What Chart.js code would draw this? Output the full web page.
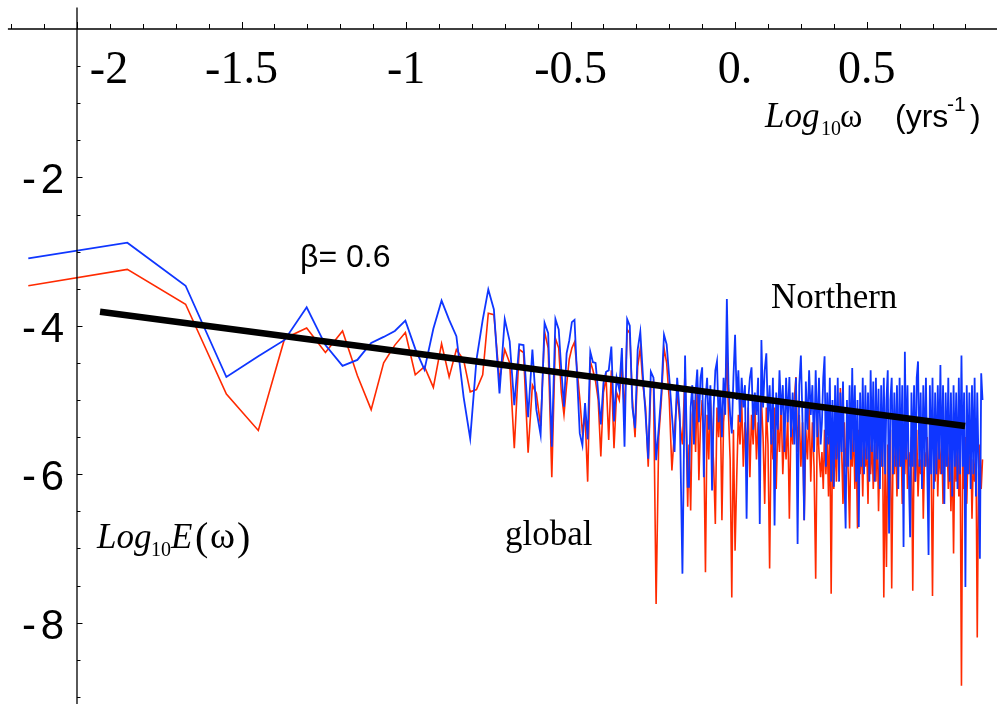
<!DOCTYPE html>
<html>
<head>
<meta charset="utf-8">
<script src="https://cdn.jsdelivr.net/npm/chart.js@4.4.1/dist/chart.umd.min.js"></script>
<style>
  html, body { margin:0; padding:0; background:#fff; }
  canvas { display:block; }
</style>
</head>
<body>
<canvas id="spectrumChart" width="997" height="704"></canvas>
<script>
/* ── Power spectrum, Log10 E(ω) vs Log10 ω ── */

// log10 of frequency (yrs^-1): first 40 harmonics, then the dense high-frequency tail
const logOmega = [
  -2.148,-1.847,-1.670,-1.546,-1.449,-1.369,-1.302,-1.245,-1.193,-1.148,
  -1.106,-1.068,-1.034,-1.002,-0.972,-0.944,-0.917,-0.892,-0.869,-0.847,
  -0.825,-0.805,-0.786,-0.767,-0.750,-0.733,-0.716,-0.700,-0.685,-0.671,
  -0.656,-0.643,-0.629,-0.616,-0.604,-0.591,-0.579,-0.568,-0.557,-0.546,
  -0.536,-0.528,-0.520,-0.512,-0.504,-0.496,-0.488,-0.480,-0.472,-0.464,
  -0.456,-0.448,-0.440,-0.432,-0.424,-0.416,-0.408,-0.400,-0.392,-0.384,
  -0.376,-0.368,-0.360,-0.352,-0.344,-0.336,-0.328,-0.320,-0.312,-0.304,
  -0.296,-0.288,-0.280,-0.272,-0.264,-0.256,-0.248,-0.240,-0.232,-0.224,
  -0.216,-0.208,-0.200,-0.192,-0.184,-0.176,-0.168,-0.160,-0.152,-0.144,
  -0.140,-0.135,-0.130,-0.125,-0.120,-0.115,-0.110,-0.105,-0.100,-0.095,
  -0.090,-0.085,-0.080,-0.075,-0.070,-0.065,-0.060,-0.055,-0.050,-0.045,
  -0.040,-0.035,-0.030,-0.025,-0.020,-0.015,-0.010,-0.005,0.000,0.005,
  0.010,0.015,0.020,0.025,0.030,0.035,0.040,0.045,0.050,0.055,
  0.060,0.065,0.070,0.075,0.080,0.085,0.090,0.095,0.100,0.105,
  0.110,0.115,0.120,0.125,0.130,0.135,0.140,0.145,0.150,0.155,
  0.160,0.165,0.170,0.175,0.180,0.185,0.190,0.195,0.200,0.205,
  0.210,0.215,0.220,0.225,0.230,0.235,0.240,0.245,0.250,0.255,
  0.260,
  0.264,0.268,0.272,0.276,0.280,0.284,0.288,0.292,0.296,0.300,
  0.304,0.308,0.312,0.316,0.320,0.324,0.328,0.332,0.336,0.340,
  0.344,0.348,0.352,0.356,0.360,0.364,0.368,0.372,0.376,0.380,
  0.384,0.388,0.392,0.396,0.400,0.404,0.408,0.412,0.416,0.420,
  0.424,0.428,0.432,0.436,0.440,0.444,0.448,0.452,0.456,0.460,
  0.464,0.468,0.472,0.476,0.480,0.484,0.488,0.492,0.496,0.500,
  0.504,0.508,0.512,0.516,0.520,0.524,0.528,0.532,0.536,0.540,
  0.544,0.548,0.552,0.556,0.560,0.564,0.568,0.572,0.576,0.580,
  0.584,0.588,0.592,0.596,0.600,0.604,0.608,0.612,0.616,0.620,
  0.624,0.628,0.632,0.636,0.640,0.644,0.648,0.652,0.656,0.660,
  0.664,0.668,0.672,0.676,0.680,0.684,0.688,0.692,0.696,0.700,
  0.704,0.708,0.712,0.716,0.720,0.724,0.728,0.732,0.736,0.740,
  0.744,0.748,0.752
];

// Northern hemisphere (blue)
const northern = [
  -3.09,-2.88,-3.46,-4.69,-4.41,-4.19,-3.75,-4.26,-4.54,-4.46,
  -4.23,-4.15,-4.07,-3.93,-4.31,-4.59,-4.04,-3.66,-3.92,-4.14,
  -4.96,-5.52,-4.46,-3.92,-3.51,-3.78,-4.91,-3.91,-4.21,-5.07,
  -4.25,-4.26,-5.23,-4.32,-5.13,-5.47,-3.96,-4.10,-5.63,-3.91,
  -4.05,-4.60,-5.09,-4.37,-4.20,-3.95,-3.92,-4.70,-5.45,-5.61,
  -5.04,-5.53,-4.35,-4.49,-4.50,-4.90,-5.33,-4.77,-4.62,-4.60,
  -4.28,-5.29,-4.70,-4.86,-4.30,-5.63,-3.91,-4.00,-5.10,-5.38,
  -4.32,-4.08,-4.68,-5.20,-5.79,-4.62,-4.70,-5.81,-5.38,-4.90,
  -4.12,-4.25,-4.70,-5.20,-5.70,-4.70,-5.20,-7.34,-4.40,-6.17,
  -6.17,-5.10,-4.80,-5.60,-4.90,-4.59,-5.30,-4.70,-4.56,-6.04,
  -5.00,-4.70,-5.40,-4.80,-6.22,-5.10,-4.60,-4.48,-5.30,-4.90,
  -5.50,-4.70,-5.20,-3.64,-4.80,-5.20,-5.45,-4.70,-4.12,-5.00,
  -4.60,-5.30,-4.70,-5.10,-4.80,-6.60,-5.00,-4.70,-4.56,-5.40,
  -4.90,-5.20,-4.70,-6.67,-4.19,-5.10,-4.60,-4.37,-5.30,-4.80,
  -5.60,-4.70,-6.69,-4.90,-5.40,-4.60,-5.20,-4.80,-5.70,-4.70,
  -5.30,-4.69,-5.50,-4.90,-5.60,-4.70,-6.94,-4.80,-4.40,-5.30,
  -6.62,-4.75,-5.40,-4.60,-5.20,-4.80,-5.70,-4.60,-5.50,-4.70,
  -5.60,
  -5.30,-4.70,-4.41,-5.90,-4.90,-5.60,-4.70,-6.10,-5.00,-6.17,
  -4.80,-5.80,-4.70,-6.10,-4.90,-5.70,-4.75,-6.00,-6.73,-5.00,
  -5.90,-4.80,-5.80,-4.57,-5.70,-4.80,-6.10,-5.00,-6.71,-4.90,
  -5.90,-4.70,-6.00,-4.80,-5.80,-4.90,-6.10,-4.60,-5.70,-4.75,
  -6.10,-4.70,-5.80,-4.85,-6.20,-4.80,-5.90,-4.70,-6.00,-5.00,
  -4.60,-6.80,-5.00,-4.70,-6.00,-4.90,-5.90,-4.80,-6.20,-4.70,
  -5.90,-4.80,-6.98,-4.35,-5.80,-4.80,-6.00,-6.85,-4.90,-5.90,
  -4.80,-6.10,-4.70,-4.48,-5.90,-4.90,-6.20,-4.80,-5.90,-4.70,
  -5.90,-7.09,-4.80,-6.00,-4.70,-6.20,-4.90,-6.00,-4.80,-5.80,
  -4.53,-6.00,-4.80,-6.40,-4.90,-5.90,-4.70,-6.10,-4.90,-6.30,
  -4.80,-5.90,-4.90,-6.20,-4.70,-6.00,-4.40,-5.90,-4.90,-7.52,
  -4.80,-6.00,-4.90,-6.20,-4.80,-6.00,-4.70,-6.30,-4.90,-5.90,
  -7.14,-4.64,-5.00
];

// global (red)
const globalE = [
  -3.46,-3.24,-3.71,-4.92,-5.41,-4.17,-4.03,-4.36,-4.07,-4.67,
  -5.13,-4.50,-4.26,-4.09,-4.66,-4.55,-4.83,-4.24,-4.69,-4.32,
  -4.46,-4.89,-4.86,-4.66,-3.83,-3.85,-4.73,-4.32,-4.50,-5.65,
  -4.32,-4.36,-5.71,-4.80,-4.91,-5.35,-4.08,-4.30,-6.04,-4.17,
  -4.30,-4.90,-5.20,-4.80,-4.45,-4.30,-4.22,-4.60,-4.98,-5.44,
  -5.20,-6.10,-4.48,-4.60,-4.75,-5.00,-5.76,-4.90,-4.70,-5.54,
  -4.60,-5.65,-4.90,-5.00,-4.50,-5.20,-4.05,-4.10,-5.00,-5.50,
  -4.55,-4.30,-4.80,-5.10,-5.90,-4.80,-4.75,-7.75,-5.50,-5.00,
  -4.30,-4.50,-5.00,-5.95,-5.40,-4.90,-5.30,-5.60,-4.60,-6.44,
  -5.60,-6.49,-5.20,-5.00,-5.70,-4.80,-6.08,-5.30,-5.00,-5.60,
  -7.32,-5.20,-5.80,-5.00,-5.40,-5.90,-6.67,-5.10,-5.50,-5.00,
  -6.62,-5.30,-5.00,-4.35,-5.20,-5.80,-7.66,-5.40,-7.03,-6.04,
  -5.20,-5.60,-5.00,-5.90,-5.30,-5.70,-5.10,-6.04,-5.20,-5.60,
  -5.00,-5.80,-5.30,-5.90,-5.00,-5.50,-6.40,-5.10,-5.60,-7.27,
  -5.30,-5.80,-5.10,-6.20,-5.30,-5.70,-5.00,-6.00,-5.40,-5.80,
  -5.20,-6.60,-5.30,-5.60,-5.00,-4.69,-5.70,-5.20,-5.90,-5.30,
  -6.62,-5.40,-5.80,-5.10,-6.10,-5.30,-5.90,-7.41,-5.20,-5.70,
  -6.04,
  -5.70,-6.20,-5.40,-6.00,-5.50,-6.30,-5.30,-7.61,-5.60,-6.20,
  -5.50,-6.10,-5.40,-5.90,-4.84,-5.70,-6.40,-5.30,-5.90,-5.60,
  -6.00,-6.73,-5.50,-5.90,-5.30,-6.20,-5.60,-6.73,-5.40,-6.00,
  -5.50,-6.30,-5.40,-5.90,-5.60,-6.40,-5.30,-6.00,-5.50,-6.20,
  -5.60,-6.10,-5.40,-6.50,-5.70,-5.90,-5.40,-7.66,-5.80,-7.25,
  -5.60,-6.20,-5.40,-7.54,-5.70,-6.00,-5.40,-6.30,-5.60,-5.90,
  -5.40,-6.40,-5.60,-6.00,-5.30,-6.20,-5.70,-5.90,-5.50,-7.57,
  -5.60,-6.10,-5.40,-6.30,-5.80,-6.00,-5.40,-6.60,-5.70,-5.90,
  -5.50,-6.20,-5.60,-5.90,-7.64,-5.70,-6.10,-5.40,-6.30,-5.60,
  -6.00,-5.50,-6.40,-5.70,-5.90,-5.40,-6.20,-5.60,-6.50,-5.70,
  -7.07,-5.60,-6.10,-5.50,-6.30,-5.70,-8.85,-5.60,-6.20,-5.50,
  -6.40,-5.70,-6.00,-5.50,-6.60,-5.80,-6.10,-5.60,-8.20,-6.00,
  -5.60,-6.20,-5.80
];

// power-law fit, slope -β
const fitX = [-1.930, 0.699];
const fitY = [-3.81, -5.35];

// axes
const X_MIN = -2.234, X_MAX = 0.796;
const Y_MIN = -9.097, Y_MAX = 0.391;
const xLabelAt   = [-2, -1.5, -1, -0.5, 0, 0.4];
const xLabelText = ['-2', '-1.5', '-1', '-0.5', '0.', '0.5'];
const yLabelAt   = [-2, -4, -6, -8];
const yLabelText = ['2', '4', '6', '8'];

const BLUE = '#0f36ff';
const RED  = '#ff2a00';

const pts = (xs, ys) => xs.map((x, i) => ({ x, y: ys[i] }));

// [text, font, x, baseline]
function drawPieces(ctx, pieces) {
  pieces.forEach(([t, f, x, y]) => { ctx.font = f; ctx.fillText(t, x, y); });
}

const axesOverlay = {
  id: 'axesOverlay',
  beforeDraw(chart) {
    const { ctx } = chart;
    ctx.save();
    ctx.fillStyle = '#fff';
    ctx.fillRect(0, 0, chart.width, chart.height);
    ctx.restore();
  },
  afterDatasetsDraw(chart) {
    const { ctx, scales: { x, y } } = chart;
    const ax = x.getPixelForValue(-2);
    const ay = y.getPixelForValue(0);
    ctx.save();
    ctx.strokeStyle = '#000';
    ctx.lineWidth = 1.3;
    ctx.beginPath();
    ctx.moveTo(x.getPixelForValue(-2.21), ay);
    ctx.lineTo(chart.width, ay);
    ctx.moveTo(ax, y.getPixelForValue(0.29));
    ctx.lineTo(ax, chart.height);
    ctx.stroke();

    // x ticks every 0.1, upward
    ctx.lineWidth = 1;
    ctx.beginPath();
    for (let i = -22; i <= 7; i++) {
      const v = i / 10;
      const px = Math.round(x.getPixelForValue(v)) + 0.5;
      const len = xLabelAt.some(m => Math.abs(m - v) < 1e-6) ? 7 : 5;
      ctx.moveTo(px, ay); ctx.lineTo(px, ay - len);
    }
    // y ticks every 0.5, to the right
    for (let i = 1; i <= 18; i++) {
      const v = -i / 2;
      const py = Math.round(y.getPixelForValue(v)) + 0.5;
      const len = yLabelAt.includes(v) ? 5.5 : 3.5;
      ctx.moveTo(ax, py); ctx.lineTo(ax + len, py);
    }
    ctx.stroke();

    ctx.fillStyle = '#000';
    // x tick labels (serif)
    ctx.font = '46px "Liberation Serif"';
    ctx.textAlign = 'center';
    ctx.textBaseline = 'alphabetic';
    xLabelAt.forEach((v, i) => {
      let px = x.getPixelForValue(v);
      if (v === -2) px += 32; // pushed off the vertical axis
      ctx.fillText(xLabelText[i], px, ay + 54);
    });

    // y tick labels (sans), "- n"
    ctx.font = '42px "Liberation Sans"';
    ctx.textAlign = 'right';
    yLabelAt.forEach((v, i) => {
      const py = y.getPixelForValue(v) + 16;
      ctx.fillText(yLabelText[i], 64, py);
      ctx.fillText('-', 36, py);
    });

    // axis titles
    ctx.textAlign = 'left';
    drawPieces(ctx, [
      ['Log', 'italic 35px "Liberation Serif"', 765, 127],
      ['10',  '20px "Liberation Serif"', 821, 135],
      ['ω',   '34px "Liberation Serif"', 840, 127],
      ['(yrs', '32px "Liberation Sans"', 895, 127],
      ['-1',  '21px "Liberation Sans"', 947, 111],
      [')',   '32px "Liberation Sans"', 970, 127],
      ['Log', 'italic 35px "Liberation Serif"', 97, 548],
      ['10',  '20px "Liberation Serif"', 151, 556],
      ['E',   'italic 35px "Liberation Serif"', 171, 548],
      ['(',   '40px "Liberation Serif"', 195, 550],
      ['ω',   '38px "Liberation Serif"', 210, 548],
      [')',   '40px "Liberation Serif"', 237, 550]
    ]);

    // annotations
    ctx.font = '32px "Liberation Sans"';
    ctx.fillText('β= 0.6', 300, 267);
    ctx.font = '35px "Liberation Serif"';
    ctx.fillText('Northern', 771, 308);
    ctx.fillText('global', 505, 545);
    ctx.restore();
  }
};

function buildSpectrumChart() {
  const ctx = document.getElementById('spectrumChart').getContext('2d');
  new Chart(ctx, {
    type: 'line',
    data: {
      datasets: [
        { label: 'fit', data: pts(fitX, fitY), borderColor: '#000', borderWidth: 6.5, pointRadius: 0, borderCapStyle: 'butt', order: 0 },
        { label: 'Northern', data: pts(logOmega, northern), borderColor: BLUE, borderWidth: 1.8, pointRadius: 0, tension: 0, order: 1 },
        { label: 'global', data: pts(logOmega, globalE), borderColor: RED, borderWidth: 1.6, pointRadius: 0, tension: 0, order: 2 }
      ]
    },
    options: {
      responsive: false, animation: false,
      layout: { padding: 0 },
      plugins: { legend: { display: false }, tooltip: { enabled: false } },
      scales: {
        x: { type: 'linear', min: X_MIN, max: X_MAX, display: false },
        y: { type: 'linear', min: Y_MIN, max: Y_MAX, display: false }
      }
    },
    plugins: [axesOverlay]
  });
}

window.addEventListener('DOMContentLoaded', buildSpectrumChart);
</script>
</body>
</html>
